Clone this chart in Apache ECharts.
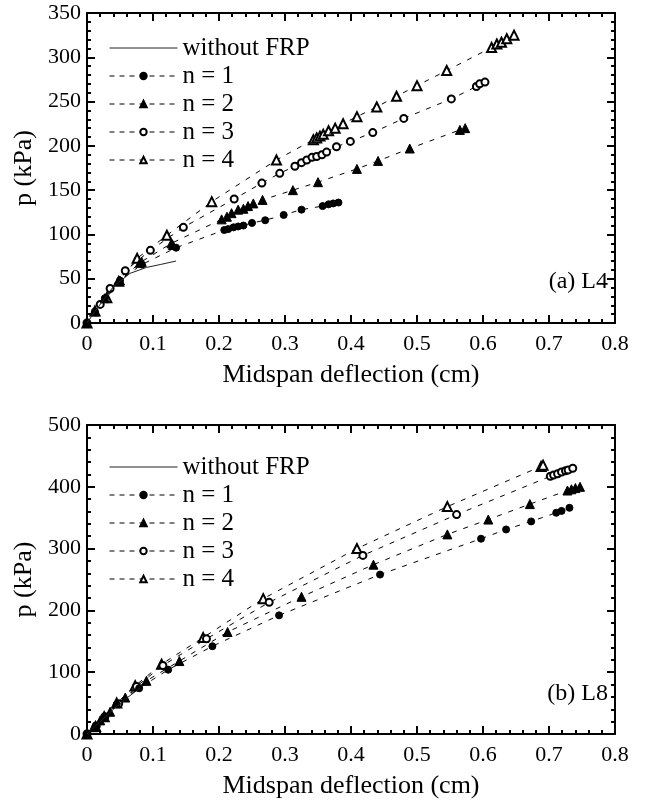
<!DOCTYPE html>
<html><head><meta charset="utf-8">
<script src="https://cdn.jsdelivr.net/npm/echarts@6/dist/echarts.min.js"></script>
<style>html,body{margin:0;padding:0;background:#fff}#c{width:645px;height:800px}</style>
</head><body><div id="c"></div>
<script>
// ---- names / labels ----
const seriesNames = ['without FRP', 'n = 1', 'n = 2', 'n = 3', 'n = 4'];
const panelLabels = ['(a) L4', '(b) L8'];
const xTitle = 'Midspan deflection (cm)';
const yTitle = 'p (kPa)';
const xRange = [0, 0.8, 0.1];
const yRangeL4 = [0, 350, 50];
const yRangeL8 = [0, 500, 100];

// ---- (a) L4 data: [deflection cm, p kPa] ----
const L4_without = [[0,0],[0.012,13],[0.027,28],[0.040,41],[0.065,56],[0.090,62.7],[0.111,66],[0.135,70]];
const L4_n1 = [[0,0],[0.012,13],[0.027,28],[0.050,48],[0.083,66],[0.135,85],[0.208,105],[0.214,106],[0.222,108],[0.229,109],[0.237,110],[0.250,113],[0.270,116],[0.298,122],[0.325,128],[0.357,132],[0.366,134],[0.373,135],[0.381,136]];
const L4_n2 = [[0,0],[0.012,13],[0.027,28],[0.050,48],[0.080,68],[0.083,69],[0.128,90],[0.130,88],[0.204,117],[0.212,120],[0.219,124],[0.229,128],[0.237,129],[0.244,132],[0.252,135],[0.266,139],[0.312,150],[0.350,159],[0.409,174],[0.441,183],[0.489,197],[0.565,218],[0.573,220]];
const L4_n3 = [[0,0],[0.020,21],[0.035,39],[0.058,59],[0.096,82],[0.146,108],[0.223,140],[0.265,158],[0.292,169],[0.315,177],[0.325,181],[0.333,184],[0.341,187],[0.348,188],[0.356,190],[0.363,193],[0.378,199],[0.399,205],[0.433,215],[0.480,231],[0.552,253],[0.590,267],[0.595,270],[0.603,272]];
const L4_n4 = [[0,0],[0.012,13.5],[0.030,28.5],[0.048,47],[0.076,73],[0.121,99],[0.189,137],[0.287,184],[0.343,207],[0.348,209],[0.353,211],[0.358,213],[0.366,217],[0.376,220],[0.388,225],[0.409,233],[0.439,244],[0.469,256],[0.500,268],[0.545,285],[0.613,311],[0.621,315],[0.628,317],[0.636,321],[0.647,325]];

// ---- (b) L8 data ----
const L8_without = [[0,0],[0.020,20],[0.040,40],[0.060,58],[0.080,74]];
const L8_n1 = [[0,0],[0.013,12],[0.026,27],[0.045,48],[0.079,74],[0.123,104],[0.190,142],[0.291,192],[0.444,258],[0.597,316],[0.635,331],[0.673,344],[0.711,358],[0.719,361],[0.731,366]];
const L8_n2 = [[0,0],[0.010,11],[0.020,22],[0.035,36],[0.058,59],[0.090,86],[0.140,118],[0.213,165],[0.325,222],[0.434,274],[0.546,323],[0.608,347],[0.671,372],[0.728,394],[0.734,396],[0.740,398],[0.747,400]];
const L8_n3 = [[0,0],[0.014,13],[0.027,28],[0.048,49],[0.075,77],[0.115,111],[0.181,154],[0.276,213],[0.418,289],[0.560,355],[0.702,417],[0.707,419],[0.713,421],[0.719,424],[0.725,426],[0.729,427],[0.736,430]];
const L8_n4 = [[0,0],[0.013,12],[0.026,28],[0.045,50],[0.073,78],[0.113,113],[0.176,156],[0.267,219],[0.409,300],[0.546,368],[0.688,433],[0.691,435]];

const FONT = 'Liberation Serif';
const symbols = ['none', 'circle', 'triangle', 'emptyCircle', 'emptyTriangle'];
const symbolSizes = [0, 7, 9, 7, 9];

const chart = echarts.init(document.getElementById('c'));

function makeX(gridIndex, pos, showLabel) {
  return {
    type: 'value', gridIndex: gridIndex, position: pos,
    min: xRange[0], max: xRange[1], interval: xRange[2],
    name: showLabel ? xTitle : '', nameLocation: 'middle', nameGap: 39,
    nameTextStyle: {fontFamily: FONT, fontSize: 26, color: '#000'},
    axisLine: {show: true, onZero: false, lineStyle: {color: '#000', width: 2}},
    axisTick: {show: true, inside: true, length: 8, lineStyle: {color: '#000', width: 2}},
    minorTick: {show: true, splitNumber: 5, length: 4, lineStyle: {color: '#000', width: 2}},
    axisLabel: {show: showLabel, margin: 10, fontFamily: FONT, fontSize: 22, color: '#000',
      formatter: v => (v === 0 ? '0' : v.toFixed(1))},
    splitLine: {show: false}
  };
}
function makeY(gridIndex, pos, range, showLabel) {
  return {
    type: 'value', gridIndex: gridIndex, position: pos,
    min: range[0], max: range[1], interval: range[2],
    name: showLabel ? yTitle : '', nameLocation: 'middle', nameGap: 46, nameRotate: 90,
    nameTextStyle: {fontFamily: FONT, fontSize: 26, color: '#000'},
    axisLine: {show: true, onZero: false, lineStyle: {color: '#000', width: 2}},
    axisTick: {show: true, inside: true, length: 8, lineStyle: {color: '#000', width: 2}},
    minorTick: {show: true, splitNumber: 5, length: 4, lineStyle: {color: '#000', width: 2}},
    axisLabel: {show: showLabel, margin: 6, fontFamily: FONT, fontSize: 22, color: '#000'},
    splitLine: {show: false}
  };
}

function makeSeries(datasets, axisIdx) {
  return datasets.map((d, i) => ({
    type: 'line', name: seriesNames[i], data: d,
    xAxisIndex: axisIdx, yAxisIndex: axisIdx,
    symbol: symbols[i], symbolSize: symbolSizes[i], showSymbol: i > 0,
    animation: false, silent: true,
    lineStyle: {color: i === 0 ? '#222' : '#000', width: 1, type: i === 0 ? 'solid' : [5, 7]},
    itemStyle: {color: '#000', borderColor: '#000', borderWidth: 1},
    z: 5 - i
  }));
}

function makeLegend(top) {
  return {
    orient: 'vertical', left: 104, top: top, itemWidth: 68, itemHeight: 8, itemGap: 0,
    selectedMode: false,
    textStyle: {fontFamily: FONT, fontSize: 25, color: '#000', lineHeight: 28, height: 28},
    data: seriesNames.map((n, i) => i === 0
      ? {name: n, itemStyle: {opacity: 0}, lineStyle: {type: 'solid', color: '#222', width: 1}}
      : {name: n, lineStyle: {type: [5, 5], color: '#000', width: 1}})
  };
}

chart.setOption({
  backgroundColor: '#fff',
  animation: false,
  grid: [
    {left: 87, right: 30, top: 13, height: 310},
    {left: 87, right: 30, top: 425, height: 310}
  ],
  xAxis: [makeX(0, 'bottom', true), makeX(0, 'top', false), makeX(1, 'bottom', true), makeX(1, 'top', false)],
  yAxis: [makeY(0, 'left', yRangeL4, true), makeY(0, 'right', yRangeL4, false),
          makeY(1, 'left', yRangeL8, true), makeY(1, 'right', yRangeL8, false)],
  legend: [makeLegend(29), makeLegend(448)],
  series: [
    ...makeSeries([L4_without, L4_n1, L4_n2, L4_n3, L4_n4], 0),
    ...makeSeries([L8_without, L8_n1, L8_n2, L8_n3, L8_n4], 2)
  ],
  graphic: [
    {type: 'text', right: 37, top: 270, style: {text: panelLabels[0], font: '24px "Liberation Serif"', fill: '#000'}},
    {type: 'text', right: 37, top: 682, style: {text: panelLabels[1], font: '24px "Liberation Serif"', fill: '#000'}}
  ]
});
</script>
</body></html>
